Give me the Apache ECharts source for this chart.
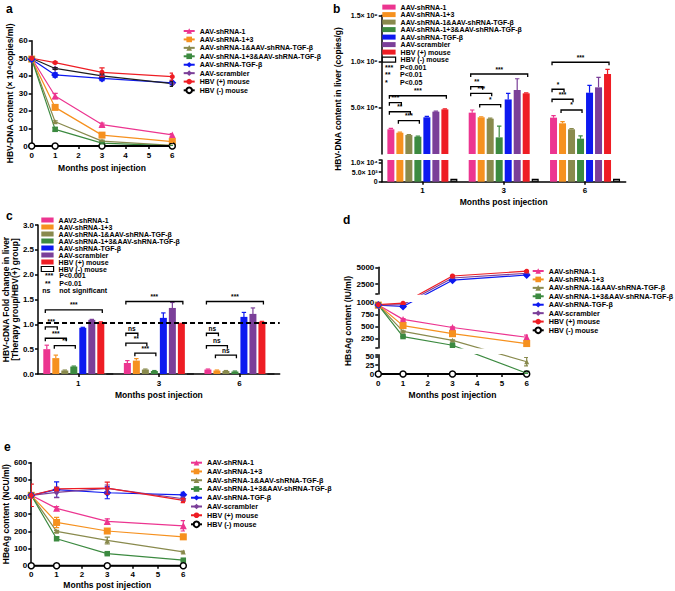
<!DOCTYPE html>
<html><head><meta charset="utf-8">
<script src="https://cdn.jsdelivr.net/npm/echarts@6/dist/echarts.min.js"></script>
<style>html,body{margin:0;padding:0;background:#fff}#chart{width:675px;height:591px}</style>
</head><body><div id="chart"></div>
<script>
// ================= DATA =================
const months = [0, 1, 3, 6];
const barMonths = ['1', '3', '6'];
const groupNames = ['AAV-shRNA-1', 'AAV-shRNA-1+3', 'AAV-shRNA-1&AAV-shRNA-TGF-β', 'AAV-shRNA-1+3&AAV-shRNA-TGF-β',
  'AAV-shRNA-TGF-β', 'AAV-scrambler', 'HBV (+) mouse', 'HBV (-) mouse'];
const groupNamesC = ['AAV2-shRNA-1', 'AAV-shRNA-1+3', 'AAV-shRNA-1&AAV-shRNA-TGF-β', 'AAV-shRNA-1+3&AAV-shRNA-TGF-β',
  'AAV-shRNA-TGF-β', 'AAV-scrambler', 'HBV (+) mouse', 'HBV (-) mouse'];

// a: serum HBV-DNA (x10^4 copies/ml); rows = groups, columns = months 0,1,3,6
const aValues = [
  [50, 28.5, 12.2, 6.3], [49.5, 22, 6.2, 2.5], [49.5, 13.8, 2.8, 0.3], [49.5, 9.5, 1.6, 0.1],
  [49.5, 40.5, 38.5, 36], [50, 44.2, 40, 35.5], [50, 47.5, 42, 39.5], [0, 0, 0, 0]];
const aErrors = [
  [0, 1.5, 0.8, 0.8], [0, 1, 0.8, 0.5], [0, 0.5, 0.5, 0.2], [0, 1, 0.4, 0.1],
  [0, 1.2, 1.2, 1], [0, 0.5, 1, 1.5], [0, 0.5, 2.5, 2], [0, 0, 0, 0]];

// b: HBV-DNA in liver (copies/g); rows = groups, columns = months 1,3,6
const bValues = [
  [2.67e8, 4.47e8, 3.93e8], [2.30e8, 3.97e8, 3.32e8], [2.05e8, 3.82e8, 2.67e8], [1.87e8, 1.80e8, 1.66e8],
  [3.97e8, 5.90e8, 6.63e8], [4.58e8, 6.92e8, 7.21e8], [4.83e8, 6.56e8, 8.65e8], [1.5e3, 1.5e3, 1.5e3]];
const bErrors = [
  [1e7, 2.9e7, 2.2e7], [0.6e7, 0.6e7, 1.8e7], [0.6e7, 0.6e7, 0.8e7], [0.6e7, 1.22e8, 2.9e7],
  [1e7, 6.5e7, 7.9e7], [0.5e7, 1.22e8, 1.08e8], [0.6e7, 0.5e7, 5e7], [0, 0, 0]];
// significance brackets: [month index, from group, to group, height, label]
const bBrackets = [
  [0, 0, 6, 6.3e8, '***'], [0, 0, 1, 5.55e8, '***'], [0, 0, 2, 4.57e8, '**'], [0, 1, 3, 3.60e8, '***'],
  [1, 0, 6, 8.65e8, '***'], [1, 0, 1, 7.28e8, '**'], [1, 0, 2, 6.56e8, '***'], [1, 1, 3, 5.35e8, '*'],
  [2, 0, 6, 9.92e8, '***'], [2, 0, 1, 7.00e8, '*'], [2, 0, 2, 5.92e8, '***'], [2, 1, 3, 4.76e8, '*']];
const bUpperTicks = [5e8, 1e9, 1.5e9];
const bUpperTickLabels = ['5.0× 10⁸', '1.0× 10⁹', '1.5× 10⁹'];
const bLowerTicks = [0, 5000, 10000];
const bLowerTickLabels = ['0', '5.0× 10³', '1.0× 10⁴'];
const bKeySymbols = ['***', '**', '*'];
const bKeyTexts = ['P<0.001', 'P<0.01', 'P<0.05'];

// c: fold change (therapy group / HBV(+) group); rows = groups, columns = months 1,3,6
const cValues = [
  [0.50, 0.22, 0.09], [0.32, 0.27, 0.07], [0.07, 0.09, 0.06], [0.15, 0.06, 0.05],
  [0.93, 1.13, 1.15], [1.09, 1.33, 1.21], [1.04, 1.01, 1.05], [0, 0, 0]];
const cErrors = [
  [0.08, 0.05, 0.01], [0.06, 0.04, 0.01], [0.01, 0.01, 0.01], [0.01, 0.01, 0.01],
  [0.01, 0.10, 0.09], [0.01, 0.11, 0.12], [0.01, 0.01, 0.01], [0, 0, 0]];
const cBrackets = [
  [0, 0, 6, 1.29, '***'], [0, 0, 1, 0.95, '***'], [0, 0, 2, 0.72, '***'], [0, 1, 3, 0.57, '**'],
  [1, 0, 6, 1.46, '***'], [1, 0, 1, 0.82, 'ns'], [1, 0, 2, 0.62, '**'], [1, 1, 3, 0.42, '***'],
  [2, 0, 6, 1.46, '***'], [2, 0, 1, 0.82, 'ns'], [2, 0, 2, 0.57, 'ns'], [2, 1, 3, 0.38, 'ns']];
const cReferenceLevel = 1.04;
const cKeySymbols = ['***', '**', 'ns'];
const cKeyTexts = ['P<0.001', 'P<0.01', 'not significant'];

// d: HBsAg (IU/ml); rows = groups, columns = months 0,1,3,6
const dValues = [
  [950, 650, 480, 275], [950, 520, 350, 143], [950, 400, 210, 35], [950, 290, 108, 2],
  [950, 920, 3075, 3850], [950, 960, 3400, 4100], [960, 990, 3700, 4425], [0, 0, 0, 0]];
const dErrors = [
  [0, 15, 15, 45], [0, 15, 15, 20], [0, 10, 10, 12], [0, 8, 8, 1],
  [0, 20, 100, 100], [0, 0, 0, 0], [0, 20, 100, 100], [0, 0, 0, 0]];
const dTopTicks = [2500, 5000];
const dMidTicks = [250, 500, 750, 1000];
const dLowTicks = [0, 25, 50];

// e: HBeAg (NCU/ml); rows = groups, columns = months 0,1,3,6
const eValues = [
  [410, 334, 258, 232], [410, 252, 202, 168], [410, 200, 147, 80], [410, 157, 70, 32],
  [410, 443, 425, 413], [410, 427, 450, 390], [410, 447, 452, 380], [0, 0, 0, 0]];
const eErrors = [
  [0, 10, 15, 30], [0, 30, 8, 15], [0, 6, 20, 5], [0, 10, 5, 4],
  [0, 45, 35, 15], [0, 30, 20, 10], [65, 10, 35, 12], [0, 0, 0, 0]];

// ================= STYLE / LAYOUT =================
const FONT = 'Arial, "Liberation Sans", Helvetica, sans-serif';
const colors = ['#ec3590', '#f6911f', '#898a4d', '#3c8a40', '#0d19f0', '#7b3f99', '#ee1d24', '#000000'];
const symbols = ['triangle', 'rect', 'triangle', 'rect', 'diamond', 'diamond', 'circle', 'circle'];
const symbolSizes = [7, 7, 5, 5.5, 8, 6, 5, 6];
const BAR_W = 7, BAR_PITCH = 9;
const stripName = n => n.slice(n.indexOf('|') + 1);

const grids = [
  {left: 31.7, top: 40.7, width: 140.6, height: 105.3},   // 0 a
  {left: 381.7, top: 15.3, width: 244, height: 138.7},    // 1 b upper
  {left: 381.7, top: 160, width: 244, height: 21.7},      // 2 b lower
  {left: 37.7, top: 225, width: 242, height: 149},        // 3 c
  {left: 378.3, top: 267.3, width: 148.4, height: 26.8},  // 4 d top
  {left: 378.3, top: 302.7, width: 148.4, height: 45.3},  // 5 d middle
  {left: 378.3, top: 354.7, width: 148.4, height: 19.3},  // 6 d bottom
  {left: 30, top: 462.7, width: 153.3, height: 103}       // 7 e
];

// broken axis of panel d: segments (bottom -> top)
const dSegs = [
  {axis: 6, min: 0, max: 55},
  {axis: 5, min: 50, max: 1000},
  {axis: 4, min: 1000, max: 5000}
].map(s => Object.assign(s, {top: grids[s.axis].top, bottom: grids[s.axis].top + grids[s.axis].height}));
function dHome(v) { return v <= 50 ? 0 : (v <= 1000 ? 1 : 2); }
function dPix(v) { const s = dSegs[dHome(v)]; return s.bottom - (v - s.min) / (s.max - s.min) * (s.bottom - s.top); }
function dToSeg(v, s) { return s.min + (s.bottom - dPix(v)) / (s.bottom - s.top) * (s.max - s.min); }

const lineCol = {color: '#000', width: 1.5};
function valueAxis(grid, extra) {
  return Object.assign({
    type: 'value', gridIndex: grid,
    axisLine: {show: true, lineStyle: lineCol},
    axisTick: {show: true, length: 3, lineStyle: lineCol},
    axisLabel: {color: '#000', fontFamily: FONT, fontWeight: 'bold', fontSize: 8, margin: 4},
    splitLine: {show: false},
    nameTextStyle: {color: '#000', fontFamily: FONT, fontWeight: 'bold', fontSize: 8.5}
  }, extra);
}
function catAxis(grid, extra) {
  return Object.assign({
    type: 'category', gridIndex: grid, data: barMonths,
    axisLine: {show: true, lineStyle: lineCol},
    axisTick: {show: true, length: 3, alignWithLabel: true, lineStyle: lineCol},
    axisLabel: {color: '#000', fontFamily: FONT, fontWeight: 'bold', fontSize: 8, margin: 5},
    splitLine: {show: false},
    nameTextStyle: {color: '#000', fontFamily: FONT, fontWeight: 'bold', fontSize: 8.5}
  }, extra);
}
const monthsName = 'Months post injection';
const xLabelMonths = {color: '#000', fontFamily: FONT, fontWeight: 'bold', fontSize: 8, margin: 5};
const dLabel = vals => ({color: '#000', fontFamily: FONT, fontWeight: 'bold', fontSize: 8, margin: 4,
  customValues: vals, formatter: v => String(v)});

const xAxes = [
  valueAxis(0, {min: 0, max: 6, interval: 1, name: monthsName, nameLocation: 'middle', nameGap: 17, axisLabel: xLabelMonths}),
  catAxis(1, {show: false}),
  catAxis(2, {name: monthsName, nameLocation: 'middle', nameGap: 16}),
  catAxis(3, {name: monthsName, nameLocation: 'middle', nameGap: 16}),
  valueAxis(4, {min: 0, max: 6, show: false}),
  valueAxis(5, {min: 0, max: 6, show: false}),
  valueAxis(6, {min: 0, max: 6, interval: 1, name: monthsName, nameLocation: 'middle', nameGap: 16, axisLabel: xLabelMonths}),
  valueAxis(7, {min: 0, max: 6, interval: 1, name: monthsName, nameLocation: 'middle', nameGap: 15, axisLabel: xLabelMonths})
];
const smallLabel = {color: '#000', fontFamily: FONT, fontWeight: 'bold', fontSize: 7, margin: 4};
const yAxes = [
  valueAxis(0, {min: 0, max: 60, interval: 10, name: 'HBV-DNA content (× 10⁴copies/ml)', nameLocation: 'middle', nameGap: 17}),
  valueAxis(1, {min: 0, max: 1.5e9,
    axisLabel: Object.assign({}, smallLabel, {customValues: bUpperTicks, formatter: v => bUpperTickLabels[bUpperTicks.indexOf(v)]}),
    axisTick: {show: true, length: 3, lineStyle: lineCol, customValues: bUpperTicks}}),
  valueAxis(2, {min: 0, max: 11200,
    axisLabel: Object.assign({}, smallLabel, {customValues: bLowerTicks, formatter: v => bLowerTickLabels[bLowerTicks.indexOf(v)]}),
    axisTick: {show: true, length: 3, lineStyle: lineCol, customValues: bLowerTicks.concat([11200])}}),
  valueAxis(3, {min: 0, max: 3, interval: 0.5, name: 'HBV-cDNA Fold change in liver\n[Therapy group/HBV(+) group]',
    nameLocation: 'middle', nameGap: 15, axisLabel: Object.assign({}, smallLabel, {fontSize: 8, formatter: v => v.toFixed(1)})}),
  valueAxis(4, {min: 1000, max: 5000, axisLabel: dLabel(dTopTicks),
    axisTick: {show: true, length: 3, lineStyle: lineCol, customValues: [1000].concat(dTopTicks)}}),
  valueAxis(5, {min: 50, max: 1000, axisLabel: dLabel(dMidTicks),
    axisTick: {show: true, length: 3, lineStyle: lineCol, customValues: [50].concat(dMidTicks)}}),
  valueAxis(6, {min: 0, max: 55, axisLabel: dLabel(dLowTicks),
    axisTick: {show: true, length: 3, lineStyle: lineCol, customValues: dLowTicks.concat([55])}}),
  valueAxis(7, {min: 0, max: 600, interval: 100, name: 'HBeAg content (NCU/ml)', nameLocation: 'middle', nameGap: 20})
];

// ================= SERIES =================
function lineSeries(name, axis, data, g, lineColor) {
  const neg = g === 7;
  return {
    type: 'line', name, xAxisIndex: axis, yAxisIndex: axis, data,
    symbol: symbols[g], symbolSize: symbolSizes[g], showAllSymbol: true,
    itemStyle: {color: neg ? '#fff' : colors[g], borderColor: colors[g], borderWidth: neg ? 1.5 : 0},
    lineStyle: {color: lineColor || colors[g], width: neg ? 1.8 : 1.2},
    emphasis: {disabled: true}, clip: true, silent: true, z: 3
  };
}
function errorSeries(axis, data, bars, colorOverride) {
  return {
    type: 'custom', xAxisIndex: axis, yAxisIndex: axis, data, clip: true, silent: true, z: 4,
    encode: {x: 0, y: 1},
    renderItem(params, api) {
      const g = api.value(3);
      const lo = api.coord([api.value(0), api.value(1)]);
      const hi = api.coord([api.value(0), api.value(2)]);
      const cx = lo[0] + (bars ? (g - 3.5) * BAR_PITCH : 0);
      const cap = bars ? 2.2 : 2.6;
      const style = {stroke: (colorOverride && colorOverride[g]) || colors[g], lineWidth: 1.2};
      const kids = [
        {type: 'line', shape: {x1: cx, y1: lo[1], x2: cx, y2: hi[1]}, style},
        {type: 'line', shape: {x1: cx - cap, y1: hi[1], x2: cx + cap, y2: hi[1]}, style}
      ];
      if (!bars) kids.push({type: 'line', shape: {x1: cx - cap, y1: lo[1], x2: cx + cap, y2: lo[1]}, style});
      return {type: 'group', children: kids};
    }
  };
}
function bracketSeries(axis, list) {
  return {
    type: 'custom', xAxisIndex: axis, yAxisIndex: axis, silent: true, z: 5,
    data: list.map(b => [b[0], b[3], b[1], b[2]]), encode: {x: 0, y: 1},
    renderItem(params, api) {
      const p = api.coord([api.value(0), api.value(1)]);
      const x1 = p[0] + (api.value(2) - 3.5) * BAR_PITCH - 1.5;
      const x2 = p[0] + (api.value(3) - 3.5) * BAR_PITCH + 1.5;
      const y = p[1], leg = 3;
      return {type: 'group', children: [
        {type: 'polyline', shape: {points: [[x1, y + leg], [x1, y], [x2, y], [x2, y + leg]]},
         style: {stroke: '#000', lineWidth: 1.3, fill: null}},
        {type: 'text', x: (x1 + x2) / 2, y: y - 1.5,
         style: {text: list[params.dataIndex][4], fill: '#000', align: 'center', verticalAlign: 'bottom',
                 font: 'bold 6.5px ' + FONT}}
      ]};
    }
  };
}
function lineErrData(values, errors) {
  const out = [];
  values.forEach((row, g) => row.forEach((v, k) => {
    const e = errors[g][k];
    if (e > 0) out.push([months[k], v - e, v + e, g]);
  }));
  return out;
}
function barErrData(values, errors) {
  const out = [];
  values.forEach((row, g) => row.forEach((v, k) => {
    const e = errors[g][k];
    if (e > 0) out.push([k, v, v + e, g]);
  }));
  return out;
}
function barSeries(name, axis, data, g, noBorder) {
  const neg = g === 7;
  return {
    type: 'bar', name, xAxisIndex: axis, yAxisIndex: axis, data,
    barWidth: BAR_W, barGap: ((BAR_PITCH - BAR_W) / BAR_W * 100) + '%',
    itemStyle: {color: neg ? '#fff' : colors[g], borderColor: '#000', borderWidth: neg && !noBorder ? 1.2 : 0},
    emphasis: {disabled: true}, silent: true, z: 2
  };
}

const series = [];
const aLineColors = colors.slice(); aLineColors[5] = '#1e1e1e';
// panel a
groupNames.forEach((g, i) => series.push(lineSeries('a|' + g, 0, months.map((m, k) => [m, aValues[i][k]]), i, aLineColors[i])));
series.push(errorSeries(0, lineErrData(aValues, aErrors), false, aLineColors));
// panel b (broken axis: upper + lower grid)
groupNames.forEach((g, i) => {
  series.push(barSeries('bU|' + g, 1, bValues[i], i, true));
  series.push(barSeries('b|' + g, 2, bValues[i], i, false));
});
series.push(errorSeries(1, barErrData(bValues, bErrors), true));
series.push(bracketSeries(1, bBrackets));
// panel c
groupNamesC.forEach((g, i) => {
  const s = barSeries('c|' + g, 3, cValues[i], i, false);
  if (i === 7) s.markLine = {silent: true, symbol: 'none', data: [{yAxis: cReferenceLevel}],
    lineStyle: {type: [5, 3], color: '#000', width: 2}, label: {show: false}};
  series.push(s);
});
series.push(errorSeries(3, barErrData(cValues, cErrors), true));
series.push(bracketSeries(3, cBrackets));
// panel d (three segments)
dSegs.forEach((seg, si) => {
  groupNames.forEach((g, i) => {
    const name = (si === 1 ? 'd|' : 'd' + si + '|') + g;
    series.push(lineSeries(name, seg.axis, months.map((m, k) => [m, dToSeg(dValues[i][k], seg)]), i));
  });
  const err = [];
  dValues.forEach((row, g) => row.forEach((v, k) => {
    const e = dErrors[g][k];
    if (e > 0 && dHome(v) === si) err.push([months[k], dToSeg(v - e, seg), dToSeg(v + e, seg), g]);
  }));
  series.push(errorSeries(seg.axis, err, false));
});
// panel e
groupNames.forEach((g, i) => series.push(lineSeries('e|' + g, 7, months.map((m, k) => [m, eValues[i][k]]), i)));
series.push(errorSeries(7, lineErrData(eValues, eErrors), false));

// ================= LEGENDS =================
const legendText = (size, lh) => ({fontFamily: FONT, fontWeight: 'bold', fontSize: size, lineHeight: lh, color: '#000', padding: 0});
function lineLegend(prefix, left, top, gap, size, overrides) {
  return {
    orient: 'vertical', left, top, padding: 0, itemGap: gap, itemWidth: 11, itemHeight: 7,
    selectedMode: false, formatter: stripName, textStyle: legendText(size, 7),
    data: groupNames.map((g, i) => Object.assign({name: prefix + '|' + g}, (overrides && overrides[i]) || {}))
  };
}
function barLegend(prefix, names, left, top, lh, gap, size, w) {
  return {
    orient: 'vertical', left, top, padding: 0, itemGap: gap, itemWidth: w, itemHeight: 5,
    selectedMode: false, formatter: stripName, textStyle: legendText(size, lh), icon: 'rect',
    data: names.map((g, i) => i === 7
      ? {name: prefix + '|' + g, itemStyle: {color: '#fff', borderColor: '#000', borderWidth: 1.2}}
      : {name: prefix + '|' + g})
  };
}
const aLegendOverrides = []; aLegendOverrides[5] = {lineStyle: {color: colors[5]}};
const legends = [
  lineLegend('a', 182.7, 27.5, 1.43, 7, aLegendOverrides),
  barLegend('b', groupNames, 381.7, 3.6, 7, 0.5, 7, 13.3),
  barLegend('c', groupNamesC, 40.7, 216.5, 6.97, 0, 7, 12.3),
  lineLegend('d', 531.7, 267.5, 1.43, 7.2),
  lineLegend('e', 190, 459.2, 1.76, 7.2)
];

// ================= GRAPHIC TEXT =================
const gText = (text, x, y, font, extra) => Object.assign({type: 'text', x, y, silent: true,
  style: {text, font, fill: '#000', align: 'left', verticalAlign: 'middle'}}, extra || {});
const graphic = [
  gText('a', 6, 9, 'bold 12px ' + FONT),
  gText('b', 333, 9, 'bold 12px ' + FONT),
  gText('c', 6, 216, 'bold 12px ' + FONT),
  gText('d', 343, 220, 'bold 12px ' + FONT),
  gText('e', 4, 447, 'bold 12px ' + FONT),
  {type: 'text', x: 337.5, y: 99, rotation: Math.PI / 2, silent: true,
   style: {text: 'HBV-DNA content in liver (copies/g)', font: 'bold 8.5px ' + FONT, fill: '#000', align: 'center', verticalAlign: 'middle'}},
  {type: 'text', x: 348.3, y: 321, rotation: Math.PI / 2, silent: true,
   style: {text: 'HBsAg content (IU/ml)', font: 'bold 8.5px ' + FONT, fill: '#000', align: 'center', verticalAlign: 'middle'}}
];
bKeySymbols.forEach((s, i) => {
  graphic.push(gText(s, 385, 67.2 + i * 7.5, 'bold 7px ' + FONT));
  graphic.push(gText(bKeyTexts[i], 400, 67.2 + i * 7.5, 'bold 7px ' + FONT));
});
cKeySymbols.forEach((s, i) => {
  graphic.push(gText(s, i === 2 ? 42.3 : 45, 275.7 + i * 7.5, 'bold 7px ' + FONT));
  graphic.push(gText(cKeyTexts[i], 59.3, 275.7 + i * 7.5, 'bold 7px ' + FONT));
});

const chart = echarts.init(document.getElementById('chart'), null, {renderer: 'svg'});
chart.setOption({
  animation: false,
  backgroundColor: '#fff',
  textStyle: {fontFamily: FONT},
  grid: grids,
  xAxis: xAxes,
  yAxis: yAxes,
  legend: legends,
  series,
  graphic
});
</script></body></html>
